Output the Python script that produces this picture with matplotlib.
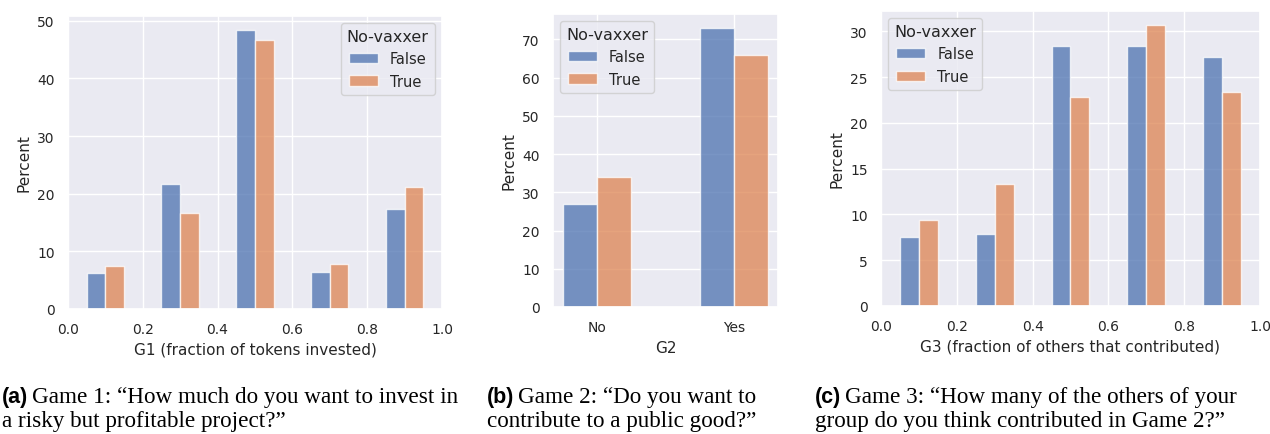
import matplotlib.pyplot as plt
import seaborn as sns

# Histogram percentages (bins of width 0.2, dodged by group)
bin_centers = [0.1, 0.3, 0.5, 0.7, 0.9]
g1_false = [6.2, 21.6, 48.4, 6.4, 17.4]
g1_true = [7.4, 16.7, 46.7, 7.8, 21.1]

g2_labels = ["No", "Yes"]
g2_false = [27.0, 73.0]
g2_true = [34.0, 66.0]

g3_false = [7.5, 7.9, 28.4, 28.4, 27.2]
g3_true = [9.4, 13.3, 22.8, 30.7, 23.4]

captions = [
    ("(a)", "Game 1: \u201cHow much do you want to invest in",
     "a risky but profitable project?\u201d"),
    ("(b)", "Game 2: \u201cDo you want to",
     "contribute to a public good?\u201d"),
    ("(c)", "Game 3: \u201cHow many of the others of your",
     "group do you think contributed in Game 2?\u201d"),
]

sns.set_theme(style="darkgrid")
plt.rcParams['font.family'] = ['DejaVu Sans']

blue, orange = sns.color_palette("deep")[0], sns.color_palette("deep")[1]
bar_kw = dict(alpha=0.75, edgecolor="white", linewidth=1.0)
leg_kw = dict(title="No-vaxxer", fontsize=10.5, title_fontsize=11.5)

fig = plt.figure(figsize=(12.7, 4.35), dpi=100)
ax1 = fig.add_axes([0.0535, 0.2874, 0.2945, 0.6736])
ax2 = fig.add_axes([0.4354, 0.2920, 0.1772, 0.6736])
ax3 = fig.add_axes([0.6937, 0.2943, 0.2984, 0.6780])


def hist_panel(ax, false_vals, true_vals, xlabel, loc):
    w = 0.05
    ax.bar([c - w / 2 for c in bin_centers], false_vals, width=w, color=blue,
           label="False", **bar_kw)
    ax.bar([c + w / 2 for c in bin_centers], true_vals, width=w, color=orange,
           label="True", **bar_kw)
    ax.set_xlim(0, 1)
    ax.set_ylim(0, max(max(false_vals), max(true_vals)) * 1.05)
    ax.set_xticks([0.0, 0.2, 0.4, 0.6, 0.8, 1.0])
    ax.set_xlabel(xlabel, fontsize=11)
    ax.set_ylabel("Percent", fontsize=11)
    ax.tick_params(labelsize=10)
    ax.legend(loc=loc, **leg_kw)


hist_panel(ax1, g1_false, g1_true, "G1 (fraction of tokens invested)", "upper right")
ax1.set_yticks([0, 10, 20, 30, 40, 50])

hist_panel(ax3, g3_false, g3_true, "G3 (fraction of others that contributed)", "upper left")
ax3.set_yticks([0, 5, 10, 15, 20, 25, 30])

# Game 2: two categories
pos = list(range(len(g2_labels)))
w2 = 0.25
ax2.bar([p - w2 / 2 for p in pos], g2_false, width=w2, color=blue, label="False", **bar_kw)
ax2.bar([p + w2 / 2 for p in pos], g2_true, width=w2, color=orange, label="True", **bar_kw)
ax2.set_xticks(pos)
ax2.set_xticklabels(g2_labels)
ax2.set_xlim(-0.325, 1.325)
ax2.set_ylim(0, max(g2_false + g2_true) * 1.05)
ax2.set_yticks([0, 10, 20, 30, 40, 50, 60, 70])
ax2.set_xlabel("G2", fontsize=11)
ax2.set_ylabel("Percent", fontsize=11)
ax2.tick_params(labelsize=10)
ax2.legend(loc="upper left", **leg_kw)

# Captions beneath each panel
cap_x = [2, 487, 815]
for (tag, line1, line2), x in zip(captions, cap_x):
    fx = x / 1270
    t = fig.text(fx, 1 - 403 / 435, tag, fontsize=15.5, fontweight="bold",
                 family="Liberation Sans", color="black", va="baseline")
    fig.canvas.draw()
    bb = t.get_window_extent()
    fig.text(bb.x1 / 1270 + 4 / 1270, 1 - 403 / 435, line1, fontsize=16.7,
             family="Liberation Serif", color="black", va="baseline")
    fig.text(fx, 1 - 427 / 435, line2, fontsize=16.7,
             family="Liberation Serif", color="black", va="baseline")

fig.savefig("out.png", dpi=100)
